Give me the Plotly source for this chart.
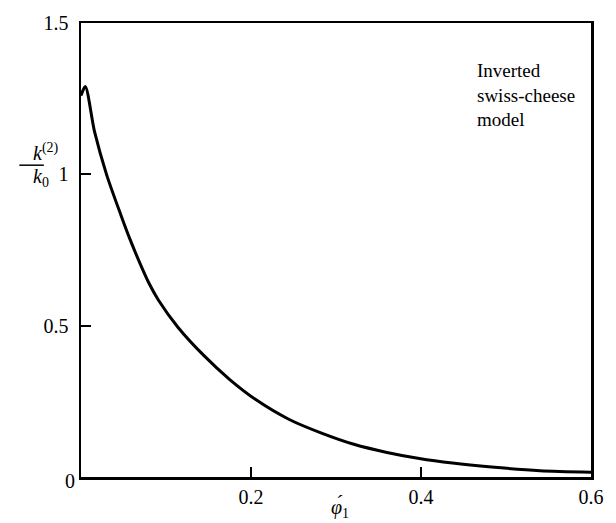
import plotly.graph_objects as go

# data
phi1 = [0, 0.005, 0.016, 0.030, 0.047, 0.057, 0.068, 0.080, 0.091, 0.114, 0.145, 0.175,
        0.206, 0.245, 0.283, 0.321, 0.360, 0.398, 0.437, 0.483, 0.540, 0.600]
k_ratio = [1.26, 1.29, 1.14, 1.00, 0.865, 0.79, 0.715, 0.64, 0.585, 0.495, 0.40, 0.322,
           0.255, 0.190, 0.145, 0.108, 0.081, 0.061, 0.046, 0.033, 0.021, 0.016]

x_tickvals = [0.2, 0.4, 0.6]
x_ticktext = ["0.2", "0.4", "0.6"]
y_tickvals = [0.5, 1, 1.5]
y_ticktext = ["0.5", "1", "1.5"]

W, H = 616, 523
ML, MR, MT, MB = 81, 14, 14, 46
PW, PH = W - ML - MR, H - MT - MB

def px(xp):
    return (xp - ML) / PW

def py(yp):
    return (H - MB - yp) / PH

FONT = "Liberation Serif"
FS = 20

fig = go.Figure()
fig.add_trace(go.Scatter(x=phi1, y=k_ratio, mode="lines",
                         line=dict(color="black", width=3, shape="spline", smoothing=0.8),
                         showlegend=False, hoverinfo="skip"))

axis_common = dict(showline=True, linecolor="black", linewidth=2.5, mirror=True,
                   showgrid=False, zeroline=False, ticks="inside", ticklen=10,
                   tickwidth=2, tickcolor="black",
                   tickfont=dict(family=FONT, size=FS, color="black"))

fig.update_xaxes(range=[0, 0.6], tickvals=x_tickvals, ticktext=x_ticktext,
                 ticklabelstandoff=0, **axis_common)
fig.update_yaxes(range=[0, 1.5], tickvals=y_tickvals, ticktext=y_ticktext,
                 ticklabelstandoff=6, **axis_common)

annotations = [
    dict(text="0", x=px(63), y=py(494), xref="paper", yref="paper",
         showarrow=False, font=dict(family=FONT, size=FS, color="black")),
    dict(text="<i>φ́</i><sub>1</sub>", x=px(346), y=py(524), xref="paper", yref="paper",
         showarrow=False, font=dict(family=FONT, size=FS, color="black")),
    dict(text="<i>k</i><sup>(2)</sup>", x=px(30), y=py(146), xref="paper", yref="paper",
         yanchor="middle", showarrow=False, font=dict(family=FONT, size=FS, color="black")),
    dict(text="<i>k</i><sub>0</sub>", x=px(30), y=py(172), xref="paper", yref="paper",
         yanchor="middle", showarrow=False, font=dict(family=FONT, size=FS, color="black")),
    dict(text="Inverted<br>swiss-cheese<br>model", x=px(484), y=py(50),
         xref="paper", yref="paper", xanchor="left", yanchor="top", align="left",
         showarrow=False, font=dict(family=FONT, size=19, color="black")),
]

fig.update_layout(
    width=W, height=H,
    margin=dict(l=ML, r=MR, t=MT, b=MB),
    paper_bgcolor="white", plot_bgcolor="white",
    annotations=annotations,
    hovermode=False,
    shapes=[dict(type="line", xref="paper", yref="paper",
                 x0=px(18), x1=px(43), y0=py(159), y1=py(159),
                 line=dict(color="black", width=1.5))],
)

fig.write_html("out.html", config={"displayModeBar": False, "staticPlot": True},
               post_script="document.body.style.margin='0';document.body.style.overflow='hidden';")
